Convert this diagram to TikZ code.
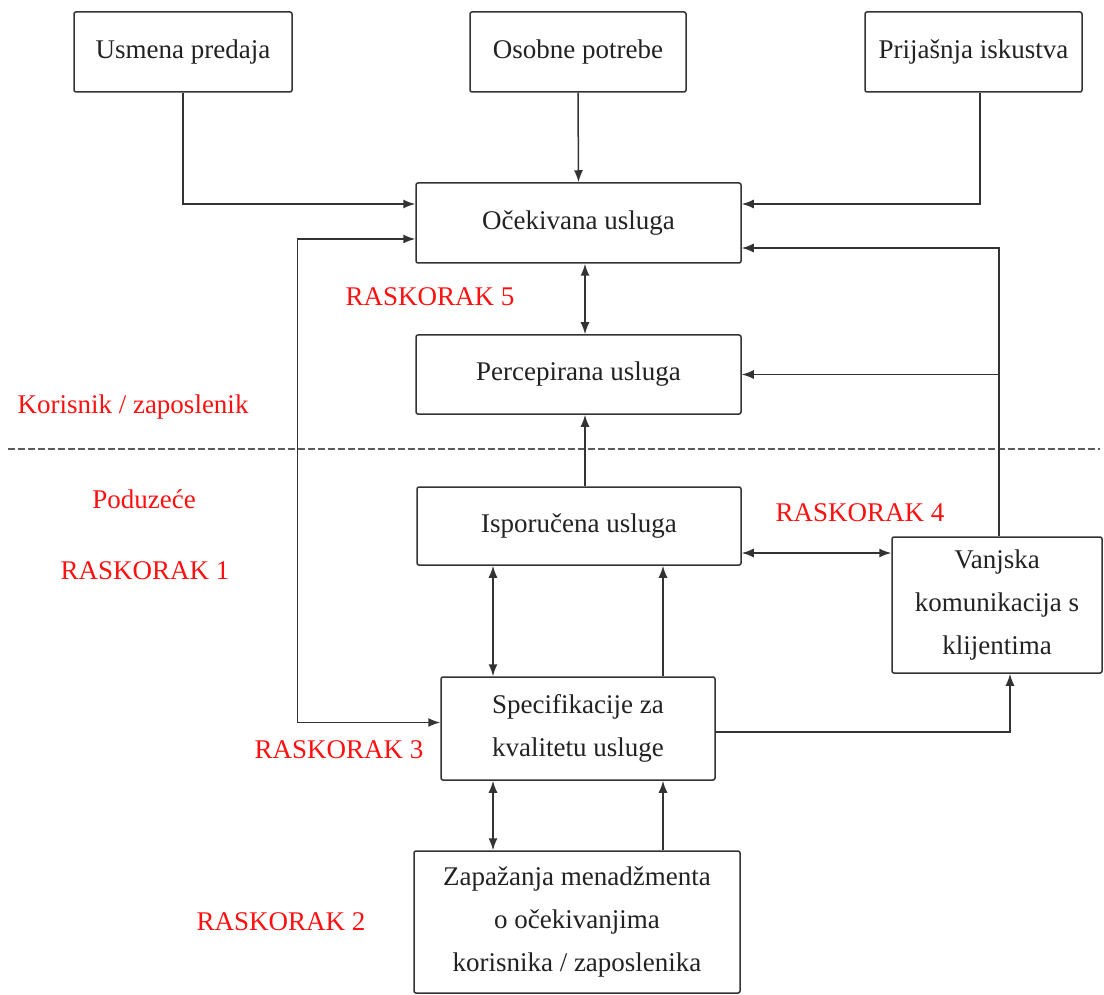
\documentclass[tikz,border=0pt]{standalone}
\usepackage{fontspec}
\setmainfont{Liberation Serif}
\usetikzlibrary{arrows.meta}
\definecolor{ink}{HTML}{222222}
\definecolor{edge}{HTML}{333333}
\definecolor{redlbl}{HTML}{FF1010}
\tikzset{
  box/.style={draw=edge, line width=1.5pt, rounded corners=2pt, fill=white,
    align=center, text=ink, inner sep=0pt,
    font=\fontsize{27}{43}\selectfont},
  gaplbl/.style={text=redlbl, font=\fontsize{27}{30}\selectfont, inner sep=0pt},
  arr/.style={draw=edge, line width=1.5pt, -{Latex[length=12pt,width=9pt]}},
  dbl/.style={draw=edge, line width=1.5pt, {Latex[length=12pt,width=9pt]}-{Latex[length=12pt,width=9pt]}},
  plain/.style={draw=edge, line width=1.5pt},
}
\begin{document}
\begin{tikzpicture}[x=1pt,y=-1pt]
\useasboundingbox (0,0) rectangle (1104,995);
% boxes
\node[box, minimum width=218pt, minimum height=80pt] (u) at (183,52) {Usmena predaja};
\node[box, minimum width=216pt, minimum height=80pt] (o) at (578,52) {Osobne potrebe};
\node[box, minimum width=217pt, minimum height=80pt] (p) at (973.5,52) {Prijašnja iskustva};
\node[box, minimum width=325pt, minimum height=80pt] (ocek) at (578.5,223) {Očekivana usluga};
\node[box, minimum width=325pt, minimum height=79pt] (perc) at (578.5,374.5) {Percepirana usluga};
\node[box, minimum width=324pt, minimum height=78pt] (ispo) at (579,526) {Isporučena usluga};
\node[box, minimum width=210pt, minimum height=136pt] (vanj) at (997,605) {Vanjska\\komunikacija s\\klijentima};
\node[box, minimum width=274pt, minimum height=103pt] (spec) at (578,728.5) {Specifikacije za\\kvalitetu usluge};
\node[box, minimum width=326pt, minimum height=142pt] (zap) at (577,922) {Zapažanja menadžmenta\\o očekivanjima\\korisnika / zaposlenika};
% labels
\node[gaplbl] (g5) at (430,297) {RASKORAK 5};
\node[gaplbl] (kz) at (133,407) {Korisnik / zaposlenik};
\node[gaplbl] (pod) at (144,499) {Poduzeće};
\node[gaplbl] (g1) at (145,571) {RASKORAK 1};
\node[gaplbl] (g4) at (860,513) {RASKORAK 4};
\node[gaplbl] (g3) at (339,750) {RASKORAK 3};
\node[gaplbl] (g2) at (281,922) {RASKORAK 2};
% dashed divider
\coordinate (dl) at (8,449);
\coordinate (dr) at (1100,449);
\draw[draw=edge!80, line width=1.5pt, dash pattern=on 7pt off 3pt] (dl) -- (dr);
% connectors
\draw[arr] (u.south) |- ([yshift=19pt]ocek.west);
\draw[arr] (o.south) -- (ocek.north);
\draw[arr] ([xshift=6.5pt]p.south) |- ([yshift=19pt]ocek.east);
\draw[dbl] ([xshift=6.5pt]ocek.south) -- ([xshift=6.5pt]perc.north);
\draw[arr] ([xshift=6pt]ispo.north) -- ([xshift=6.5pt]perc.south);
\draw[dbl] ([xshift=-86pt]ispo.south) -- ([xshift=-85pt]spec.north);
\draw[arr] ([xshift=85pt]spec.north) -- ([xshift=84pt]ispo.south);
\draw[dbl] ([xshift=-85pt]spec.south) -- ([xshift=-84pt]zap.north);
\draw[arr] ([xshift=86pt]zap.north) -- ([xshift=85pt]spec.south);
\draw[dbl] ([yshift=-16pt]ocek.west) -- ++(-118,0) |- ([yshift=6pt]spec.west);
\draw[arr] ([xshift=2pt]vanj.north) |- ([yshift=-25pt]ocek.east);
\draw[arr] ([xshift=2pt]vanj.north |- perc.east) -- (perc.east);
\draw[dbl] ([yshift=-27pt]ispo.east) -- ([yshift=52pt]vanj.west);
\draw[arr] ([yshift=-3.5pt]spec.east) -| ([xshift=13pt]vanj.south);
\end{tikzpicture}
\end{document}
